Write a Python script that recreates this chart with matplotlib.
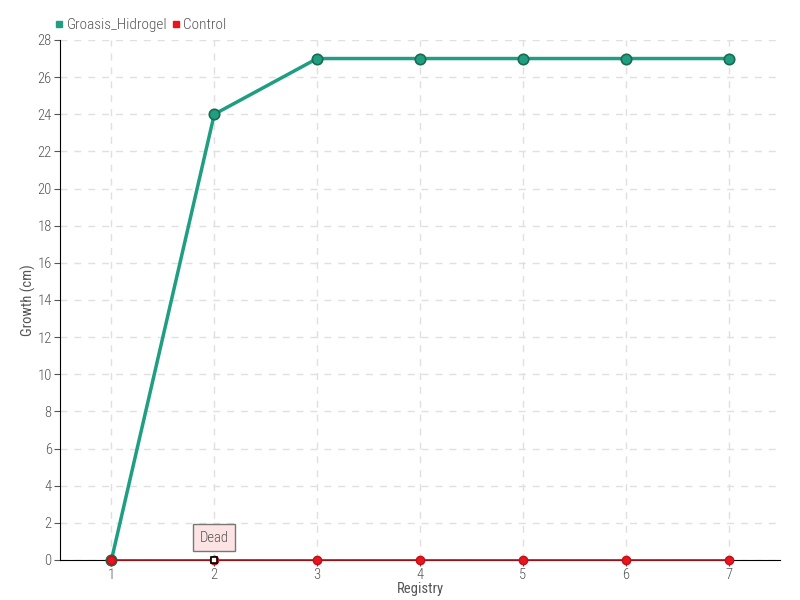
import matplotlib
matplotlib.use("Agg")
import matplotlib.pyplot as plt
from matplotlib.lines import Line2D
from matplotlib import font_manager

names = {f.name for f in font_manager.fontManager.ttflist}
cands = [n for n in ['Liberation Sans Narrow', 'Roboto Condensed', 'DejaVu Sans Condensed', 'Roboto', 'DejaVu Sans'] if n in names]
plt.rcParams['font.family'] = cands + ['DejaVu Sans']
plt.rcParams['font.stretch'] = 'condensed'
plt.rcParams['font.weight'] = 'light'

registry = [1, 2, 3, 4, 5, 6, 7]
groasis = [0, 24, 27, 27, 27, 27, 27]
control = [0, 0, 0, 0, 0, 0, 0]
yticks = list(range(0, 29, 2))

green = '#1f9e82'
green_edge = '#1a6b50'
red = '#e8141e'
txt = '#555555'

fig = plt.figure(figsize=(8, 6), dpi=100)
ax = fig.add_axes([0.075, 0.0667, 0.9, 0.8667])

ax.plot(registry, groasis, color=green, lw=2.5, marker='o', ms=7.5,
        markerfacecolor=green, markeredgecolor=green_edge, markeredgewidth=1.2, zorder=3, clip_on=False)
ax.plot(registry, control, color='#c0101a', lw=1.2, marker='o', ms=6,
        markerfacecolor=red, markeredgecolor='#c0101a', zorder=4, clip_on=False)
ax.plot([registry[1]], [control[1]], marker='s', ms=5, markerfacecolor='white',
        markeredgecolor='black', markeredgewidth=1.2, linestyle='none', zorder=5, clip_on=False)

ax.annotate('Dead', xy=(registry[1], control[1]), xytext=(0, 16), textcoords='offset points',
            ha='center', va='center', fontsize=10.5, color=txt,
            bbox=dict(boxstyle='square,pad=0.45', fc='#fde4e4', ec='#777777', lw=1), zorder=6)

ax.set_xlim(0.5, 7.5)
ax.set_ylim(0, 28)
ax.set_xticks(registry)
ax.set_yticks(yticks)
ax.tick_params(axis='both', labelsize=10.5, colors=txt, length=4, pad=2)
ax.tick_params(axis='x', color='#444444')
ax.grid(True, color='#e0e0e0', linestyle=(0, (5, 5)), lw=1)
ax.set_axisbelow(True)
for s in ['top', 'right']:
    ax.spines[s].set_visible(False)
ax.spines['left'].set_color('#000000')
ax.spines['bottom'].set_color('#000000')
ax.set_xlabel('Registry', fontsize=10.5, color=txt, labelpad=0)
ax.set_ylabel('Growth (cm)', fontsize=10.5, color=txt)
ax.yaxis.set_label_coords(-0.033, 0.5)

handles = [Line2D([], [], marker='s', color='none', markerfacecolor=green, markeredgecolor=green, ms=4),
           Line2D([], [], marker='s', color='none', markerfacecolor=red, markeredgecolor=red, ms=4)]
fig.legend(handles, ['Groasis_Hidrogel', 'Control'], loc='upper left', bbox_to_anchor=(0.052, 0.993),
           ncol=2, frameon=False, fontsize=11, handlelength=0.5, handletextpad=0.25, columnspacing=0.3,
           labelcolor=txt)

fig.savefig('out.png', dpi=100)
